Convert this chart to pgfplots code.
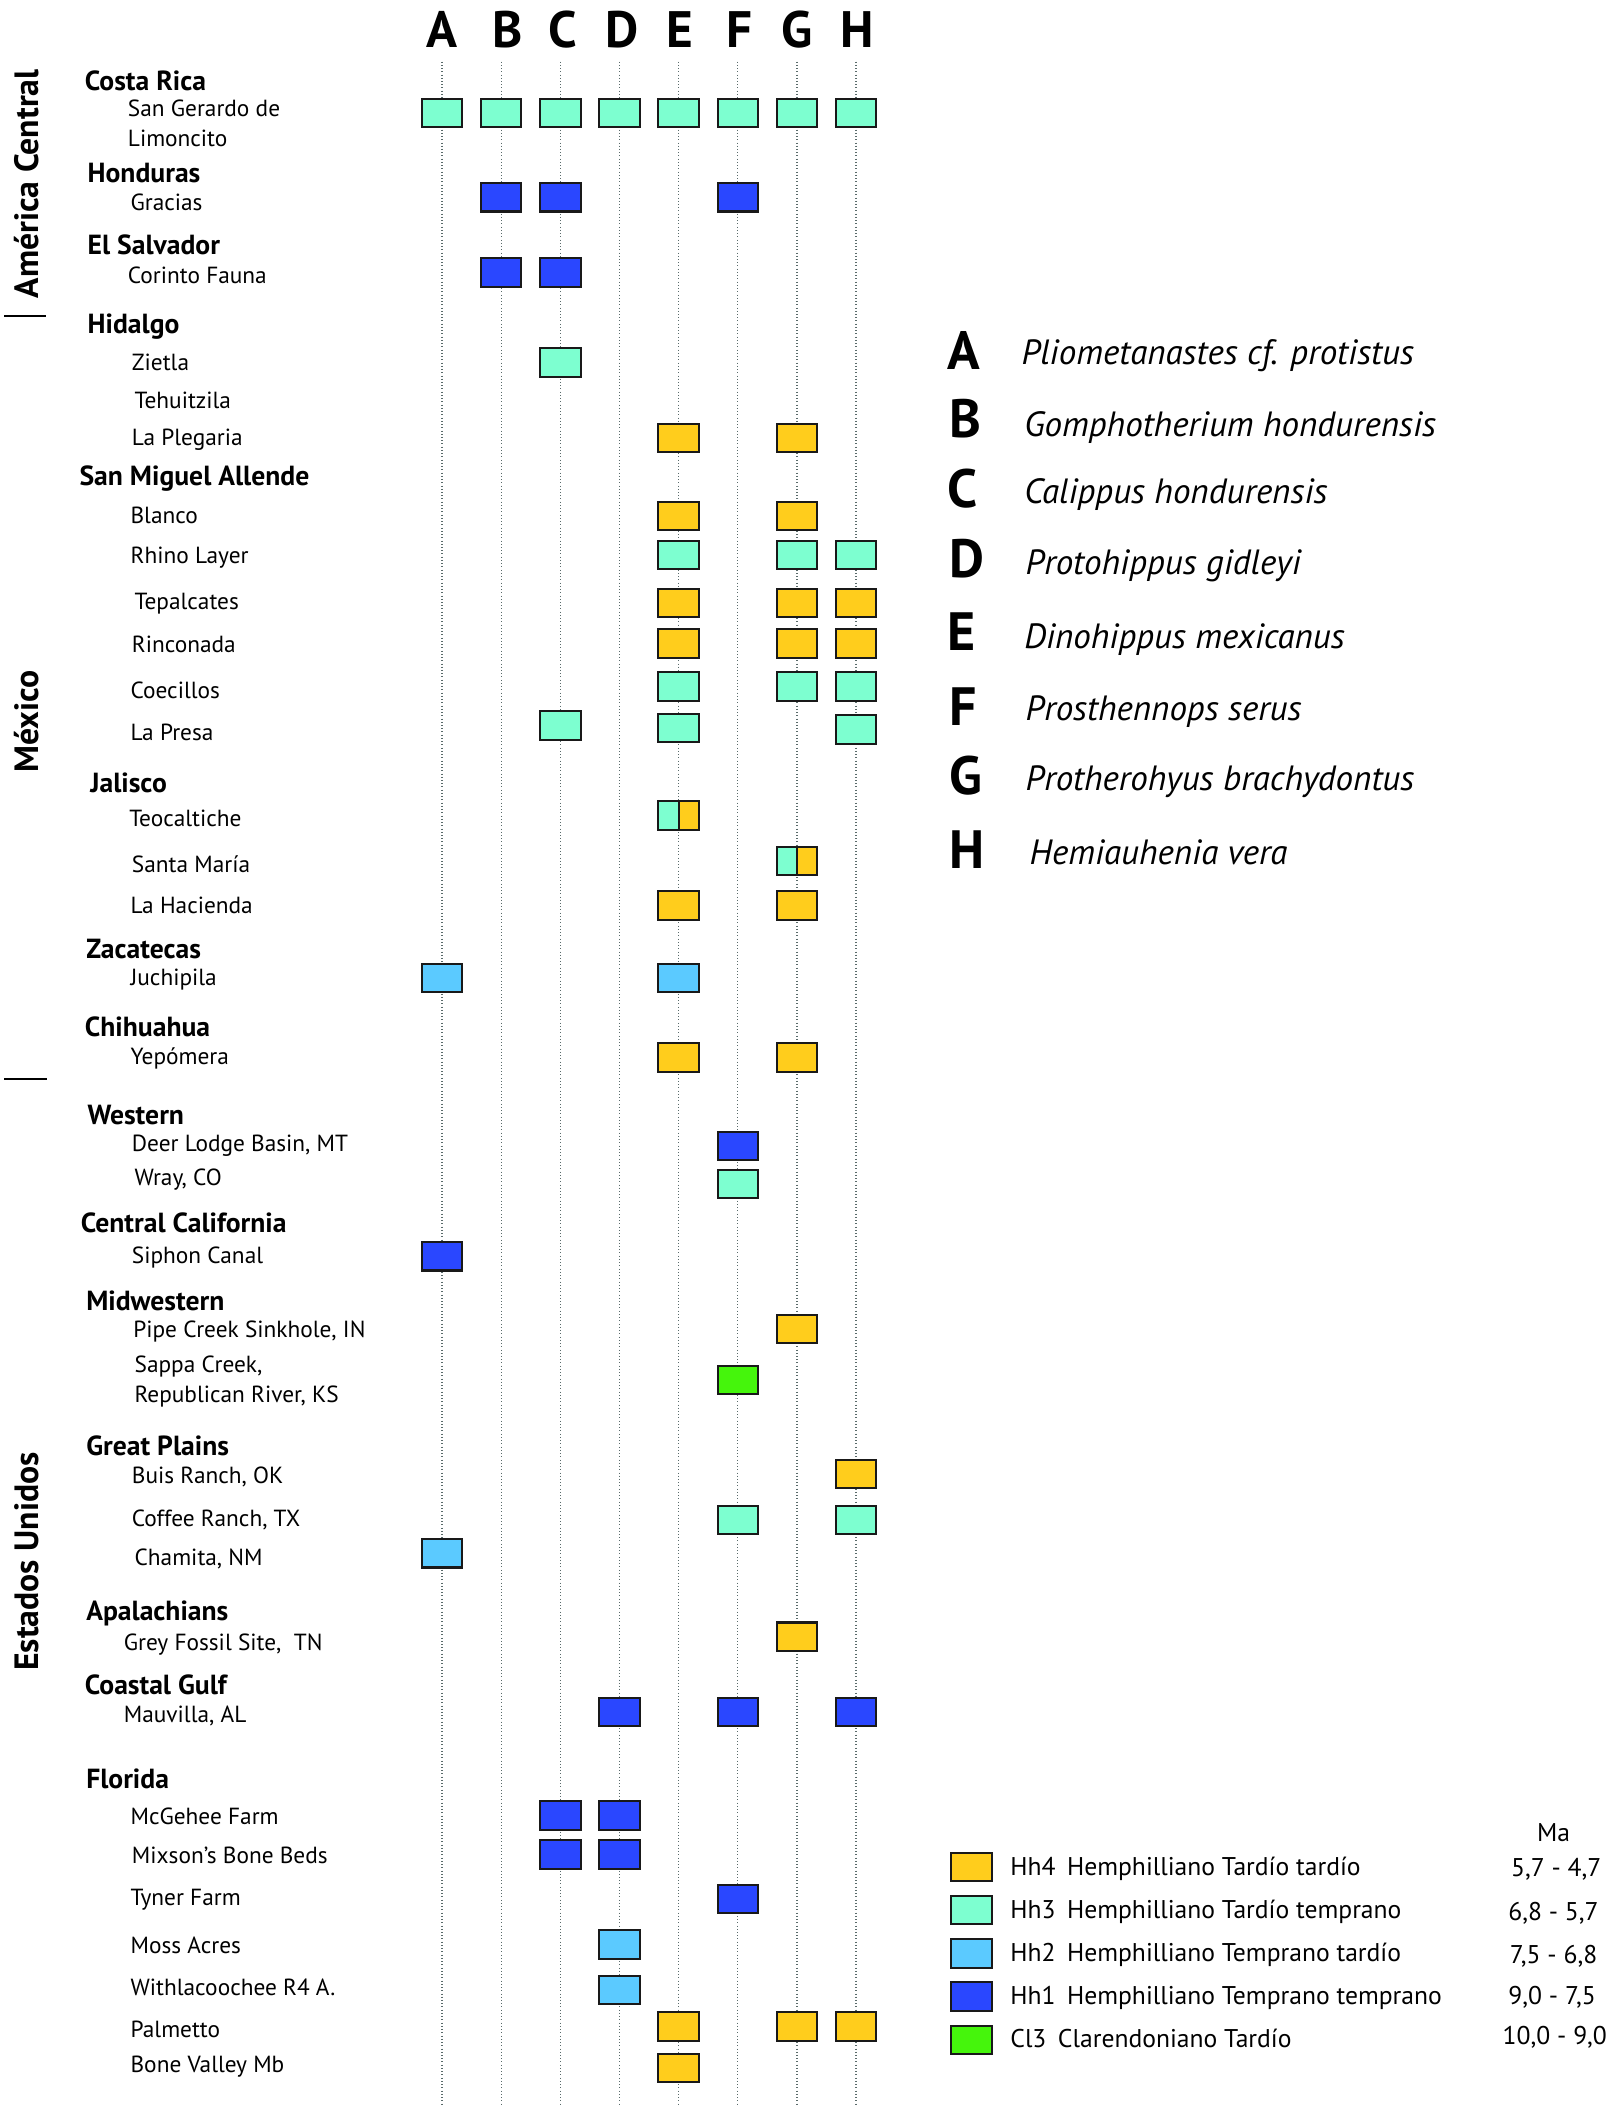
\documentclass[border=0pt]{standalone}
\usepackage{fontspec}
\setmainfont{PT Sans}
\usepackage{pgfplots}
\usepackage{pgfplotstable}
\pgfplotsset{compat=1.18}

\definecolor{hhfour}{HTML}{FFCD1C}
\definecolor{hhthree}{HTML}{7DFFD0}
\definecolor{hhtwo}{HTML}{5BCAFF}
\definecolor{hhone}{HTML}{2A47FF}
\definecolor{clthree}{HTML}{45F50C}
\definecolor{gridc}{HTML}{5A6B6B}

% boxes 30x21, and the two halves of a split box
\pgfdeclareplotmark{box}{\pgfpathrectangle{\pgfpoint{-15pt}{-10.5pt}}{\pgfpoint{30pt}{21pt}}\pgfusepathqfillstroke}
\pgfdeclareplotmark{boxl}{\pgfpathrectangle{\pgfpoint{-15pt}{-10.5pt}}{\pgfpoint{15pt}{21pt}}\pgfusepathqfillstroke}
\pgfdeclareplotmark{boxr}{\pgfpathrectangle{\pgfpoint{0pt}{-10.5pt}}{\pgfpoint{15pt}{21pt}}\pgfusepathqfillstroke}

% col = species column (1=A ... 8=H), y = row position
\pgfplotstableread{
col y
5 326
7 326
5 384
7 384
5 449
7 449
8 449
5 479
7 479
8 479
5 674
7 674
5 787
7 787
7 989
8 1097
7 1218
5 1508
7 1508
8 1508
5 1539
}\tabHhFour

\pgfplotstableread{
col y
1 84
2 84
3 84
4 84
5 84
6 84
7 84
8 84
3 270
5 413
7 413
8 413
5 511
7 511
8 511
3 540
5 542
8 543
6 881
6 1131
8 1131
}\tabHhThree

\pgfplotstableread{
col y
1 728
5 728
1 1156
4 1447
4 1481
}\tabHhTwo

\pgfplotstableread{
col y
2 147
3 147
6 147
2 203
3 203
6 853
1 935
4 1274
6 1274
8 1274
3 1351
4 1351
3 1380
4 1380
6 1413
}\tabHhOne

\pgfplotstableread{
col y
6 1027
}\tabClThree

% split boxes (Hh3 left half, Hh4 right half)
\pgfplotstableread{
col y
5 607
7 641
}\tabSplit

\newcommand{\xp}[1]{((#1)-329)/44+1}
\tikzset{
  site/.style={anchor=west, inner sep=0pt, font=\fontsize{17.3}{20}\selectfont},
  reg/.style={anchor=west, inner sep=0pt, font=\fontsize{20.5}{24}\selectfont\bfseries},
  head/.style={inner sep=0pt, font=\fontsize{38}{40}\selectfont\bfseries},
  spl/.style={anchor=west, inner sep=0pt, font=\fontsize{40}{44}\selectfont\bfseries},
  spn/.style={anchor=west, inner sep=0pt, font=\fontsize{26}{30}\selectfont\itshape},
  grp/.style={rotate=90, inner sep=0pt, font=\fontsize{25}{28}\selectfont\bfseries},
  leg/.style={inner sep=0pt, font=\fontsize{19}{22}\selectfont},
  sp/.style={only marks, draw=black!90, line width=1.5pt},
}
\newcommand{\site}[3]{\node[site] at (axis cs:{\xp{#1}},#2) {#3};}
\newcommand{\reg}[3]{\node[reg] at (axis cs:{\xp{#1}},#2) {#3};}

\begin{document}
\begin{tikzpicture}
\begin{axis}[
    name=ax,
    scale only axis,
    width=1200pt, height=1517pt,
    xmin={\xp{0}}, xmax={\xp{1204}},
    ymin=46, ymax=1568,
    y dir=reverse,
    clip=false,
    axis line style={draw=none},
    tick style={draw=none},
    xtick={1,...,8}, xticklabels={},
    ytick=\empty,
    xmajorgrids,
    grid style={dotted, line width=1pt, gridc},
    legend style={draw=none, fill=none, inner sep=0pt,
        at={(axis cs:{\xp{707}},1378)}, anchor=north west,
        font=\fontsize{19}{22}\selectfont,
        row sep=9.5pt, column sep=13pt,
        nodes={inner sep=0pt}},
    legend cell align=left,
    legend image code/.code={\draw[#1] (0pt,-10.5pt) rectangle (30pt,10.5pt);},
  ]

  \addplot[sp, mark=box, fill=hhfour] table[x=col, y=y] {\tabHhFour};
  \addlegendentry{Hh4\hspace{0.45em}Hemphilliano Tardío tardío}
  \addplot[sp, mark=box, fill=hhthree] table[x=col, y=y] {\tabHhThree};
  \addlegendentry{Hh3\hspace{0.45em}Hemphilliano Tardío temprano}
  \addplot[sp, mark=box, fill=hhtwo] table[x=col, y=y] {\tabHhTwo};
  \addlegendentry{Hh2\hspace{0.45em}Hemphilliano Temprano tardío}
  \addplot[sp, mark=box, fill=hhone] table[x=col, y=y] {\tabHhOne};
  \addlegendentry{Hh1\hspace{0.45em}Hemphilliano Temprano temprano}
  \addplot[sp, mark=box, fill=clthree] table[x=col, y=y] {\tabClThree};
  \addlegendentry{Cl3\hspace{0.45em}Clarendoniano Tardío}

  \addplot[forget plot, sp, mark=boxl, fill=hhthree] table[x=col, y=y] {\tabSplit};
  \addplot[forget plot, sp, mark=boxr, fill=hhfour] table[x=col, y=y] {\tabSplit};

  % column heads
  \node[head] at (axis cs:1,22) {A};
  \node[head] at (axis cs:{\xp{378}},22) {B};
  \node[head] at (axis cs:{\xp{419}},22) {C};
  \node[head] at (axis cs:{\xp{463}},22) {D};
  \node[head] at (axis cs:{\xp{506}},22) {E};
  \node[head] at (axis cs:{\xp{550}},22) {F};
  \node[head] at (axis cs:{\xp{593}},22) {G};
  \node[head] at (axis cs:{\xp{638}},22) {H};

  % groups
  \node[grp] at (axis cs:{\xp{20}},137) {América Central};
  \node[grp] at (axis cs:{\xp{20}},537) {México};
  \node[grp] at (axis cs:{\xp{20}},1162) {Estados Unidos};
  \draw[line width=1.6pt] (axis cs:{\xp{3}},235) -- (axis cs:{\xp{34}},235);
  \draw[line width=1.6pt] (axis cs:{\xp{3}},803) -- (axis cs:{\xp{35}},803);

  % localities
  \reg{63}{60}{Costa Rica}
  \site{95}{81}{San Gerardo de}
  \site{95}{103}{Limoncito}
  \reg{65}{129}{Honduras}
  \site{97}{151}{Gracias}
  \reg{65}{182}{El Salvador}
  \site{95}{205}{Corinto Fauna}
  \reg{65}{243}{Hidalgo}
  \site{98}{270}{Zietla}
  \site{100}{298}{Tehuitzila}
  \site{98}{327}{La Plegaria}
  \reg{59}{356}{San Miguel Allende}
  \site{97}{384}{Blanco}
  \site{97}{415}{Rhino Layer}
  \site{100}{449}{Tepalcates}
  \site{98}{480}{Rinconada}
  \site{97}{514}{Coecillos}
  \site{97}{545}{La Presa}
  \reg{67}{583}{Jalisco}
  \site{96}{609}{Teocaltiche}
  \site{98}{643}{Santa María}
  \site{97}{674}{La Hacienda}
  \reg{64}{706}{Zacatecas}
  \site{97}{729}{Juchipila}
  \reg{63}{764}{Chihuahua}
  \site{97}{788}{Yepómera}
  \reg{65}{830}{Western}
  \site{98}{853}{Deer Lodge Basin, MT}
  \site{100}{878}{Wray, CO}
  \reg{60}{910}{Central California}
  \site{98}{936}{Siphon Canal}
  \reg{64}{968}{Midwestern}
  \site{99}{991}{Pipe Creek Sinkhole, IN}
  \site{100}{1017}{Sappa Creek,}
  \site{100}{1039}{Republican River, KS}
  \reg{64}{1076}{Great Plains}
  \site{98}{1099}{Buis Ranch, OK}
  \site{98}{1131}{Coffee Ranch, TX}
  \site{100}{1160}{Chamita, NM}
  \reg{64}{1201}{Apalachians}
  \site{92}{1224}{Grey Fossil Site,\ \ TN}
  \reg{63}{1254}{Coastal Gulf}
  \site{92}{1277}{Mauvilla, AL}
  \reg{64}{1324}{Florida}
  \site{97}{1352}{McGehee Farm}
  \site{98}{1381}{Mixson’s Bone Beds}
  \site{97}{1414}{Tyner Farm}
  \site{97}{1448}{Moss Acres}
  \site{97}{1479}{Withlacoochee R4 A.}
  \site{97}{1510}{Palmetto}
  \site{97}{1538}{Bone Valley Mb}

  % species key
  \node[spl] at (axis cs:{\xp{705}},261) {A};
  \node[spl] at (axis cs:{\xp{706}},312) {B};
  \node[spl] at (axis cs:{\xp{705}},364) {C};
  \node[spl] at (axis cs:{\xp{706}},416) {D};
  \node[spl] at (axis cs:{\xp{705}},470) {E};
  \node[spl] at (axis cs:{\xp{706}},526) {F};
  \node[spl] at (axis cs:{\xp{706}},577) {G};
  \node[spl] at (axis cs:{\xp{706}},632) {H};
  \node[spn] at (axis cs:{\xp{760}},265) {Pliometanastes cf. protistus};
  \node[spn] at (axis cs:{\xp{762}},318) {Gomphotherium hondurensis};
  \node[spn] at (axis cs:{\xp{762}},368) {Calippus hondurensis};
  \node[spn] at (axis cs:{\xp{763}},421) {Protohippus gidleyi};
  \node[spn] at (axis cs:{\xp{762}},476) {Dinohippus mexicanus};
  \node[spn] at (axis cs:{\xp{763}},530) {Prosthennops serus};
  \node[spn] at (axis cs:{\xp{763}},582) {Protherohyus brachydontus};
  \node[spn] at (axis cs:{\xp{766}},634) {Hemiauhenia vera};

  % ages
  \node[leg] at (axis cs:{\xp{1156}},1364) {Ma};
  \node[leg] at (axis cs:{\xp{1158}},1391) {5,7 - 4,7};
  \node[leg] at (axis cs:{\xp{1156}},1424) {6,8 - 5,7};
  \node[leg] at (axis cs:{\xp{1156}},1456) {7,5 - 6,8};
  \node[leg] at (axis cs:{\xp{1155}},1486) {9,0 - 7,5};
  \node[leg] at (axis cs:{\xp{1157}},1516) {10,0 - 9,0};

  \coordinate (tl) at (axis cs:{\xp{0}},0.15);
  \coordinate (br) at (axis cs:{\xp{1204}},1568);
\end{axis}
\pgfresetboundingbox
\path (tl) rectangle (br);
\end{tikzpicture}
\end{document}
